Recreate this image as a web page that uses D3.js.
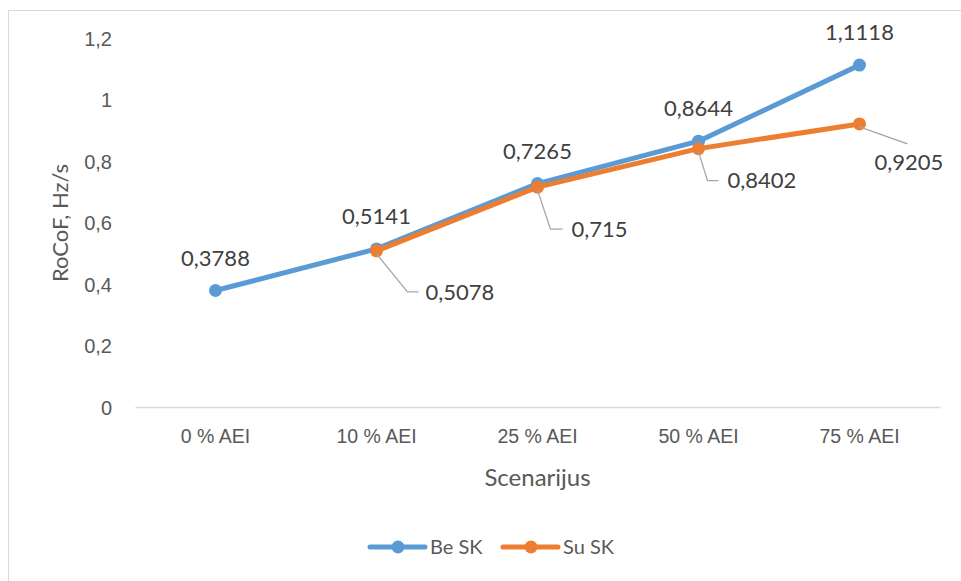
<!DOCTYPE html>
<html>
<head>
<meta charset="utf-8">
<script src="https://cdn.jsdelivr.net/npm/d3@7"></script>
<style>
  html, body { margin: 0; padding: 0; background: #fff; }
  svg { display: block; font-family: Lato, "Open Sans", sans-serif; }
</style>
</head>
<body>
<svg id="chart" width="961" height="581"></svg>
<script>
// Scenario categories and RoCoF values (Hz/s)
const categories = ["0 % AEI", "10 % AEI", "25 % AEI", "50 % AEI", "75 % AEI"];
const beSK = [0.3788, 0.5141, 0.7265, 0.8644, 1.1118];
const suSK = [null, 0.5078, 0.715, 0.8402, 0.9205];
const yTicks = [0, 0.2, 0.4, 0.6, 0.8, 1, 1.2];
const seriesNames = ["Be SK", "Su SK"];

const fmt = v => String(v).replace(".", ",");

const svg = d3.select("#chart");
const W = 961, H = 581;
const margin = { left: 135, right: 21, top: 38, bottom: 174 };

// Outer chart frame
svg.append("path")
  .attr("d", `M8.5,${H} V10.5 H${W}`)
  .attr("fill", "none").attr("stroke", "#d9d9d9").attr("stroke-width", 1);

const x = d3.scaleBand().domain(categories).range([margin.left, W - margin.right]);
const y = d3.scaleLinear().domain([0, 1.2]).range([H - margin.bottom, margin.top]);
const cx = c => x(c) + x.bandwidth() / 2;

// Y axis labels
const yAxis = svg.append("g").attr("transform", `translate(${margin.left - 23},0)`)
  .call(d3.axisLeft(y).tickValues(yTicks).tickFormat(fmt).tickSize(0).tickPadding(0));
yAxis.select(".domain").remove();
yAxis.selectAll("text").attr("fill", "#595959").attr("font-size", 20).attr("dy", "0.35em");

// X axis baseline and category labels
const xAxis = svg.append("g").attr("transform", `translate(0,${y(0)})`)
  .call(d3.axisBottom(x).tickSize(0).tickPadding(22));
xAxis.select(".domain").attr("stroke", "#d9d9d9").attr("stroke-width", 1.3);
xAxis.selectAll("text").attr("fill", "#595959").attr("font-size", 19.5);

// Axis titles
svg.append("text").attr("x", cx(categories[2])).attr("y", 486)
  .attr("text-anchor", "middle").attr("fill", "#595959").attr("font-size", 24)
  .text("Scenarijus");
svg.append("text").attr("transform", `translate(68,223) rotate(-90)`)
  .attr("text-anchor", "middle").attr("fill", "#595959").attr("font-size", 22)
  .text("RoCoF, Hz/s");

const colors = ["#5b9bd5", "#ed7d31"];
const seriesData = [beSK, suSK].map(vals =>
  categories.map((c, i) => ({ c, v: vals[i] })).filter(d => d.v !== null));

const line = d3.line().x(d => cx(d.c)).y(d => y(d.v));

seriesData.forEach((data, si) => {
  const g = svg.append("g");
  g.append("path").datum(data).attr("d", line)
    .attr("fill", "none").attr("stroke", colors[si]).attr("stroke-width", 5)
    .attr("stroke-linejoin", "round").attr("stroke-linecap", "round");
  g.selectAll("circle").data(data).join("circle")
    .attr("cx", d => cx(d.c)).attr("cy", d => y(d.v)).attr("r", 6.5)
    .attr("fill", colors[si]);
});

// Be SK value labels, above each point
svg.append("g").selectAll("text").data(seriesData[0]).join("text")
  .attr("x", d => cx(d.c)).attr("y", d => y(d.v) - 25)
  .attr("text-anchor", "middle").attr("fill", "#404040").attr("font-size", 22)
  .text(d => fmt(d.v));

// Su SK value labels, placed below-right with leader lines
const suOffsets = [
  { dx: 31, dy: 41, hx: 11, tx: 49 },
  { dx: 13, dy: 42, hx: 12, tx: 34 },
  { dx: 9, dy: 32, hx: 11, tx: 29 },
  { dx: 48, dy: 20, hx: 0, tx: 15 }
];
const suG = svg.append("g");
seriesData[1].forEach((d, i) => {
  const o = suOffsets[i];
  const px = cx(d.c), py = y(d.v);
  const ex = px + o.dx, ey = py + o.dy;
  suG.append("path")
    .attr("d", `M${px},${py + 3} L${ex},${ey} H${ex + o.hx}`)
    .attr("fill", "none").attr("stroke", "#a6a6a6").attr("stroke-width", 1.3);
  suG.append("text")
    .attr("x", px + o.tx).attr("y", ey + (i === 3 ? 18 : 0)).attr("dy", "0.35em")
    .attr("fill", "#404040").attr("font-size", 22)
    .text(fmt(d.v));
});

// Legend
const legend = svg.append("g");
const legendItems = [{ x: 370 }, { x: 503 }];
legendItems.forEach((it, i) => {
  const ly = 547;
  legend.append("line").attr("x1", it.x).attr("x2", it.x + 55).attr("y1", ly).attr("y2", ly)
    .attr("stroke", colors[i]).attr("stroke-width", 5).attr("stroke-linecap", "round");
  legend.append("circle").attr("cx", it.x + 28).attr("cy", ly).attr("r", 6.5).attr("fill", colors[i]);
  legend.append("text").attr("x", it.x + 60).attr("y", ly).attr("dy", "0.35em")
    .attr("fill", "#595959").attr("font-size", 20).text(seriesNames[i]);
});
</script>
</body>
</html>
